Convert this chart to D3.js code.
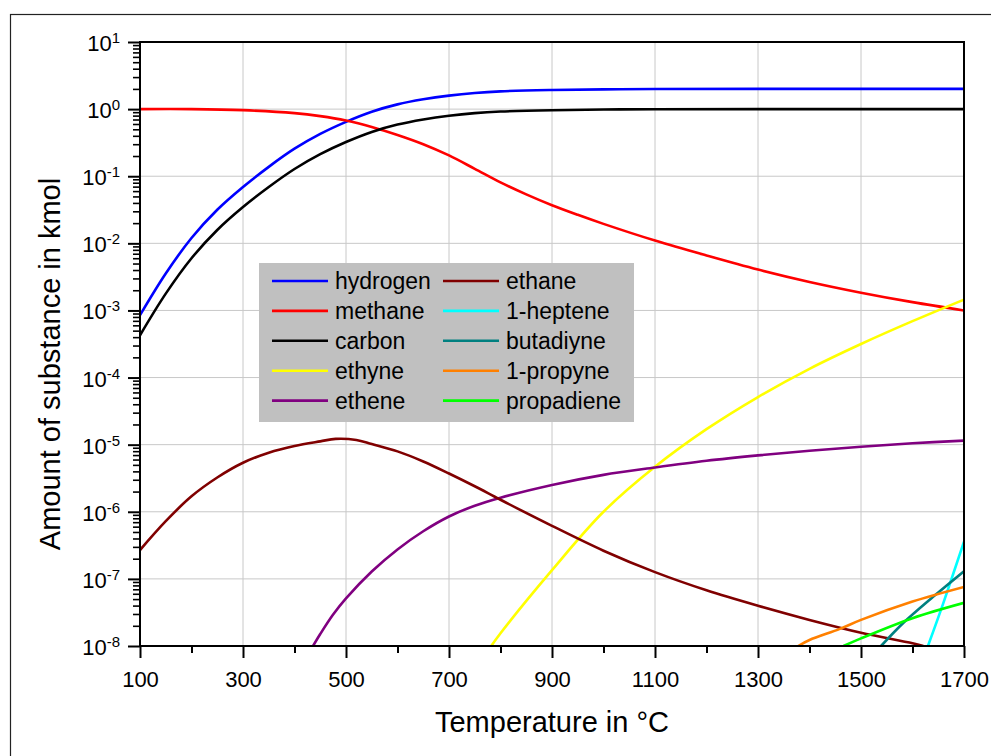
<!DOCTYPE html>
<html>
<head>
<meta charset="utf-8">
<script src="https://cdn.jsdelivr.net/npm/d3@7"></script>
<style>
  html, body { margin: 0; padding: 0; background: #fff; }
  svg { display: block; font-family: "Liberation Sans", Arial, sans-serif; }
</style>
</head>
<body>
<svg id="chart" width="991" height="756"></svg>
<script>
// ---------- data (temperature °C, amount in kmol) ----------
const hydrogen = [[100,8.5e-4],[150,3.55e-3],[200,1.2e-2],[250,3.16e-2],[300,6.9e-2],[350,0.138],[400,0.257],[450,0.427],[500,0.646],[550,0.914],[600,1.176],[650,1.40],[700,1.59],[750,1.74],[800,1.84],[900,1.926],[1000,1.97],[1100,1.99],[1300,2.0],[1700,2.0]];
const methane = [[100,1.0],[200,1.0],[300,0.965],[400,0.872],[450,0.787],[500,0.677],[550,0.543],[600,0.412],[650,0.30],[700,0.204],[750,0.129],[800,0.081],[850,0.0537],[900,0.037],[950,0.0266],[1000,0.0195],[1100,0.011],[1200,6.6e-3],[1300,4.07e-3],[1400,2.66e-3],[1500,1.84e-3],[1600,1.33e-3],[1700,1.0e-3]];
const carbon = [[100,4.27e-4],[150,1.78e-3],[200,6.0e-3],[250,1.58e-2],[300,3.47e-2],[350,6.9e-2],[400,0.128],[450,0.213],[500,0.323],[550,0.457],[600,0.588],[650,0.70],[700,0.796],[750,0.871],[800,0.919],[900,0.963],[1000,0.985],[1100,0.995],[1300,1.0],[1700,1.0]];
const ethyne = [[782,1.0e-8],[800,1.55e-8],[900,1.35e-7],[1000,1.0e-6],[1100,4.68e-6],[1200,1.70e-5],[1300,5.13e-5],[1400,1.35e-4],[1500,3.16e-4],[1600,6.92e-4],[1700,1.45e-3]];
const ethene = [[436,1.0e-8],[450,1.51e-8],[475,2.95e-8],[500,5.13e-8],[550,1.29e-7],[600,2.75e-7],[650,5.13e-7],[700,8.51e-7],[750,1.23e-6],[800,1.62e-6],[900,2.51e-6],[1000,3.55e-6],[1100,4.57e-6],[1200,5.75e-6],[1300,6.92e-6],[1400,8.13e-6],[1500,9.33e-6],[1600,1.05e-5],[1700,1.15e-5]];
const ethane = [[100,2.69e-7],[150,7.24e-7],[200,1.70e-6],[250,3.24e-6],[300,5.37e-6],[350,7.59e-6],[400,9.55e-6],[450,1.12e-5],[480,1.22e-5],[520,1.175e-5],[550,1.02e-5],[600,7.94e-6],[650,5.62e-6],[700,3.72e-6],[750,2.40e-6],[800,1.51e-6],[900,6.17e-7],[1000,2.63e-7],[1100,1.26e-7],[1200,6.76e-8],[1300,3.98e-8],[1400,2.45e-8],[1500,1.58e-8],[1600,1.10e-8],[1621,1.0e-8]];
const heptene = [[1630,1.0e-8],[1660,4.4e-8],[1700,3.6e-7]];
const butadiyne = [[1539,1.0e-8],[1582,2.2e-8],[1640,5.4e-8],[1700,1.3e-7]];
const propyne = [[1378,1.0e-8],[1400,1.23e-8],[1459,1.8e-8],[1500,2.45e-8],[1600,4.6e-8],[1700,7.6e-8]];
const propadiene = [[1466,1.0e-8],[1500,1.3e-8],[1600,2.6e-8],[1700,4.4e-8]];

const seriesNames = ["hydrogen","methane","carbon","ethyne","ethene","ethane","1-heptene","butadiyne","1-propyne","propadiene"];
const seriesData = [hydrogen, methane, carbon, ethyne, ethene, ethane, heptene, butadiyne, propyne, propadiene];
const seriesColors = ["#0000ff","#ff0000","#000000","#ffff00","#800080","#800000","#00ffff","#008080","#ff8000","#00ff00"];

const xMajor = [100,300,500,700,900,1100,1300,1500,1700];
const xMinor = [200,400,600,800,1000,1200,1400,1600];
const xGrid = [300,500,700,900,1100,1300,1500];
const yExponents = [1,0,-1,-2,-3,-4,-5,-6,-7,-8];

const xTitle = "Temperature in °C";
const yTitle = "Amount of substance in kmol";

// ---------- layout ----------
const svg = d3.select("#chart");
const L = 140, R = 964, T = 42, B = 646;
const x = d3.scaleLinear().domain([100,1700]).range([L,R]);
const y = d3.scaleLog().domain([1e-8,10]).range([B,T]);

// outer frame
svg.append("rect").attr("x",10.5).attr("y",14.5).attr("width",1000).attr("height",800)
  .attr("fill","none").attr("stroke","#222").attr("stroke-width",1.2);

// grid
const grid = svg.append("g").attr("stroke","#c8c8c8").attr("stroke-width",1);
grid.selectAll("line.v").data(xGrid).join("line")
  .attr("x1",d=>x(d)).attr("x2",d=>x(d)).attr("y1",T).attr("y2",B);
grid.selectAll("line.h").data(yExponents.filter(e=>e<1 && e>-8)).join("line")
  .attr("x1",L).attr("x2",R).attr("y1",e=>y(Math.pow(10,e))).attr("y2",e=>y(Math.pow(10,e)));

// clip
svg.append("clipPath").attr("id","clip").append("rect")
  .attr("x",L).attr("y",T).attr("width",R-L).attr("height",B-T);

// lines
const line = d3.line().x(d=>x(d[0])).y(d=>y(d[1])).curve(d3.curveCatmullRom.alpha(0.5));
const lines = svg.append("g").attr("clip-path","url(#clip)");
seriesData.forEach((s,i)=>{
  lines.append("path").attr("d",line(s)).attr("fill","none")
    .attr("stroke",seriesColors[i]).attr("stroke-width",2.6).attr("stroke-linejoin","round");
});

// frame
svg.append("rect").attr("x",L).attr("y",T).attr("width",R-L).attr("height",B-T)
  .attr("fill","none").attr("stroke","#000").attr("stroke-width",2);

// x axis
const xAxisMaj = d3.axisBottom(x).tickValues(xMajor).tickSize(12).tickFormat(d3.format("d")).tickPadding(8);
const gx = svg.append("g").attr("transform",`translate(0,${B})`).call(xAxisMaj);
gx.select(".domain").remove();
gx.selectAll(".tick line").attr("stroke-width",2);
gx.selectAll(".tick text").attr("font-size",22).attr("fill","#000")
  .attr("font-family","Liberation Sans, Arial, sans-serif").attr("dy",null).attr("y",40.5);
const xAxisMin = d3.axisBottom(x).tickValues(xMinor).tickSize(7).tickFormat("");
const gxm = svg.append("g").attr("transform",`translate(0,${B})`).call(xAxisMin);
gxm.select(".domain").remove();
gxm.selectAll(".tick line").attr("stroke-width",2);

// y axis
const yMajorVals = yExponents.map(e=>Math.pow(10,e));
const yAxisMaj = d3.axisLeft(y).tickValues(yMajorVals).tickSize(12).tickFormat("");
const gy = svg.append("g").attr("transform",`translate(${L},0)`).call(yAxisMaj);
gy.select(".domain").remove();
gy.selectAll(".tick line").attr("stroke-width",2);
const yMinorVals = [];
yExponents.filter(e=>e<1).forEach(e=>{ for(let m=2;m<=9;m++) yMinorVals.push(m*Math.pow(10,e)); });
const yAxisMin = d3.axisLeft(y).tickValues(yMinorVals).tickSize(7).tickFormat("");
const gym = svg.append("g").attr("transform",`translate(${L},0)`).call(yAxisMin);
gym.select(".domain").remove();
gym.selectAll(".tick line").attr("stroke-width",1.6);

const yl = svg.append("g").attr("font-size",22).attr("fill","#000");
yExponents.forEach(e=>{
  const t = yl.append("text").attr("x",120).attr("y",y(Math.pow(10,e))+9).attr("text-anchor","end");
  t.append("tspan").text("10");
  t.append("tspan").attr("font-size",15).attr("dy",-8).text(String(e));
});

// titles
svg.append("text").attr("x",(L+R)/2).attr("y",731.5).attr("text-anchor","middle")
  .attr("font-size",29).attr("fill","#000").text(xTitle);
svg.append("text").attr("transform",`translate(60,364) rotate(-90)`).attr("text-anchor","middle")
  .attr("font-size",29).attr("fill","#000").text(yTitle);

// legend
const lg = svg.append("g");
lg.append("rect").attr("x",259).attr("y",263).attr("width",375).attr("height",159).attr("fill","#c0c0c0");
seriesNames.forEach((n,i)=>{
  const col = Math.floor(i/5), row = i%5;
  const cy = 281 + row*29.9;
  const lx = col===0 ? 272 : 443;
  lg.append("line").attr("x1",lx).attr("x2",lx+56).attr("y1",cy).attr("y2",cy)
    .attr("stroke",seriesColors[i]).attr("stroke-width",2.6);
  lg.append("text").attr("x",lx+63).attr("y",cy+8).attr("font-size",23).attr("fill","#000").text(n);
});
</script>
</body>
</html>
